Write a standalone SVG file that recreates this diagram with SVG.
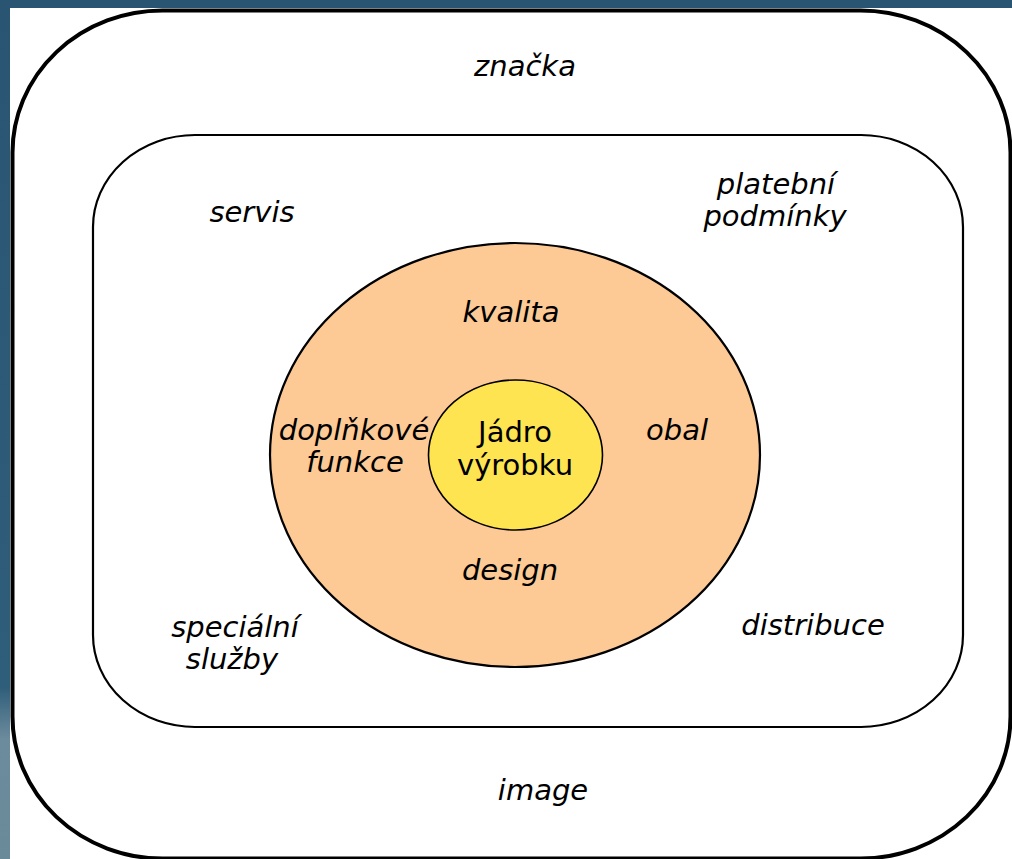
<svg xmlns="http://www.w3.org/2000/svg" width="1012" height="859" viewBox="0 0 1012 859">
<defs>
<linearGradient id="band" x1="0" y1="0" x2="0" y2="1">
<stop offset="0" stop-color="#2a5572"/>
<stop offset="0.8" stop-color="#2f5e7a"/>
<stop offset="0.86" stop-color="#6c8b9c"/>
<stop offset="1" stop-color="#6a8a9a"/>
</linearGradient>
<style>
.t{font-family:"DejaVu Sans","Verdana",sans-serif;font-size:29px;font-style:italic;fill:#000;text-anchor:middle}
.c{font-family:"DejaVu Sans","Verdana",sans-serif;font-size:29px;fill:#000;text-anchor:middle}
</style>
</defs>
<rect x="0" y="0" width="1012" height="859" fill="url(#band)"/>
<rect x="10" y="8" width="1002" height="851" fill="#ffffff"/>
<g id="outer">
<rect x="12.5" y="10.5" width="998" height="848" rx="150" ry="142" fill="none" stroke="#000" stroke-width="4"/>
<text class="t" x="525" y="76">značka</text>
<text class="t" x="543" y="800">image</text>
</g>
<g id="middle">
<rect x="93" y="135" width="870" height="592" rx="102" ry="92" fill="none" stroke="#000" stroke-width="2.2"/>
<text class="t" x="252" y="222">servis</text>
<text class="t" x="776" y="194">platební</text>
<text class="t" x="775" y="226">podmínky</text>
<text class="t" x="235" y="637">speciální</text>
<text class="t" x="232" y="669">služby</text>
<text class="t" x="813" y="635">distribuce</text>
</g>
<g id="actual">
<ellipse cx="515" cy="455" rx="245" ry="212" fill="#fdca96" stroke="#000" stroke-width="2.2"/>
<text class="t" x="511" y="322">kvalita</text>
<text class="t" x="354" y="440">doplňkové</text>
<text class="t" x="355" y="472">funkce</text>
<text class="t" x="677" y="440">obal</text>
<text class="t" x="510" y="580">design</text>
</g>
<g id="core">
<ellipse cx="515.5" cy="455" rx="87" ry="75" fill="#ffe452" stroke="#000" stroke-width="1.6"/>
<text class="c" x="515" y="442">Jádro</text>
<text class="c" x="515" y="475">výrobku</text>
</g>
<g id="connectors"></g>
</svg>
